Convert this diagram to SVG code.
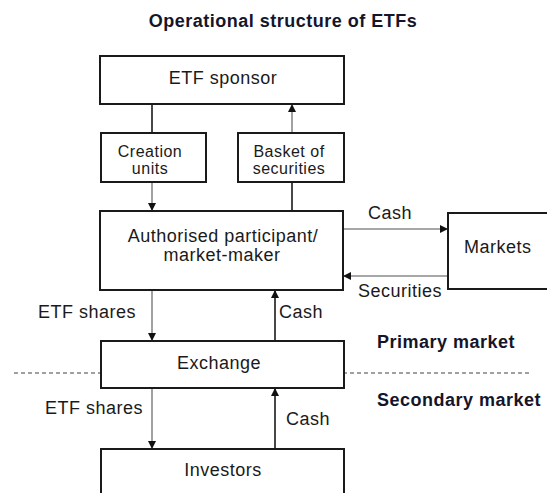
<svg xmlns="http://www.w3.org/2000/svg" width="547" height="493" viewBox="0 0 547 493">
  <style>
    .box { fill: #ffffff; stroke: #1a1a1a; stroke-width: 2; }
    .lbl { font-family: "Liberation Sans", Arial, sans-serif; font-size: 18px; letter-spacing: 0.5px; fill: #1a1a1a; }
    .sm { font-size: 16px; }
    .bold { font-family: "Liberation Sans", Arial, sans-serif; font-size: 18px; font-weight: bold; letter-spacing: 0.5px; fill: #15152a; }
    .mid { text-anchor: middle; }
    .dark { stroke: #1a1a1a; stroke-width: 1.6; fill: none; }
    .grey { stroke: #8a8a8a; stroke-width: 1.6; fill: none; }
    .divider { stroke: #a0a0a0; stroke-width: 2; stroke-dasharray: 4 3; fill: none; }
  </style>
  <defs>
    <marker id="tip" viewBox="0 0 10 10" refX="10" refY="5" markerWidth="8" markerHeight="8" markerUnits="userSpaceOnUse" orient="auto">
      <path d="M0,0 L10,5 L0,10 Z" fill="#111111"/>
    </marker>
  </defs>
  <rect width="547" height="493" fill="#ffffff"/>

  <text class="bold mid" x="283" y="27">Operational structure of ETFs</text>

  <!-- market boundary -->
  <line class="divider" x1="14" y1="373" x2="532" y2="373"/>

  <g id="connectors">
    <line class="dark" x1="152" y1="104" x2="152" y2="133"/>
    <line class="grey" x1="152" y1="182" x2="152" y2="211" marker-end="url(#tip)"/>
    <line class="grey" x1="292" y1="133" x2="292" y2="104" marker-end="url(#tip)"/>
    <line class="dark" x1="292" y1="211" x2="292" y2="182"/>
    <line class="grey" x1="343" y1="229" x2="448" y2="229" marker-end="url(#tip)"/>
    <line class="grey" x1="448" y1="276" x2="343" y2="276" marker-end="url(#tip)"/>
    <line class="grey" x1="152" y1="290" x2="152" y2="341" marker-end="url(#tip)"/>
    <line class="dark" x1="275" y1="341" x2="275" y2="290" marker-end="url(#tip)"/>
    <line class="grey" x1="152" y1="388" x2="152" y2="449" marker-end="url(#tip)"/>
    <line class="dark" x1="275" y1="449" x2="275" y2="388" marker-end="url(#tip)"/>
    <text class="lbl" x="368" y="219">Cash</text>
    <text class="lbl" x="358" y="297">Securities</text>
    <text class="lbl" x="38" y="318">ETF shares</text>
    <text class="lbl" x="279" y="318">Cash</text>
    <text class="lbl" x="45" y="414">ETF shares</text>
    <text class="lbl" x="286" y="425">Cash</text>
  </g>

  <g id="sponsor">
    <rect class="box" x="100" y="56" width="244" height="48"/>
    <text class="lbl mid" x="223" y="84">ETF sponsor</text>
  </g>

  <g id="creation-units">
    <rect class="box" x="101" y="133" width="105" height="49"/>
    <text class="lbl sm mid" x="150" y="157">Creation</text>
    <text class="lbl sm mid" x="150" y="174">units</text>
  </g>

  <g id="basket">
    <rect class="box" x="238" y="133" width="106" height="49"/>
    <text class="lbl sm mid" x="289" y="157">Basket of</text>
    <text class="lbl sm mid" x="289" y="174">securities</text>
  </g>

  <g id="participant">
    <rect class="box" x="100" y="211" width="243" height="79"/>
    <text class="lbl mid" x="223" y="242">Authorised participant/</text>
    <text class="lbl mid" x="222" y="261">market-maker</text>
  </g>

  <g id="markets">
    <rect class="box" x="448" y="213" width="120" height="76"/>
    <text class="lbl" x="464" y="253">Markets</text>
  </g>

  <g id="exchange">
    <rect class="box" x="101" y="341" width="243" height="47"/>
    <text class="lbl mid" x="219" y="369">Exchange</text>
  </g>

  <g id="investors">
    <rect class="box" x="101" y="449" width="243" height="60"/>
    <text class="lbl mid" x="223" y="476">Investors</text>
  </g>

  <text class="bold" x="377" y="348">Primary market</text>
  <text class="bold" x="377" y="406">Secondary market</text>
</svg>
